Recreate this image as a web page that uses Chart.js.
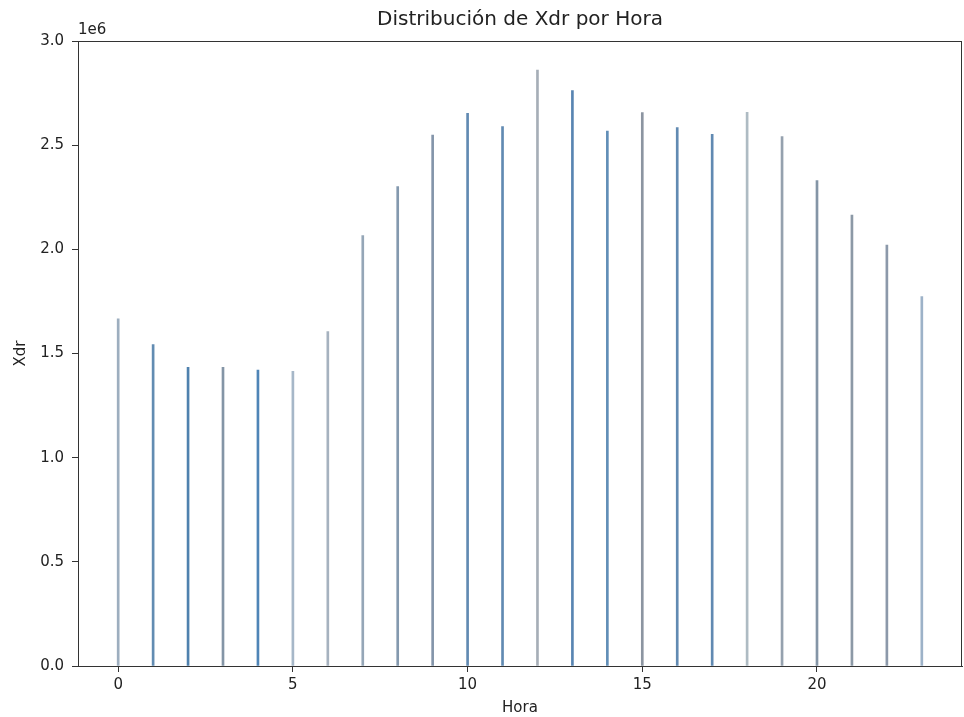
<!DOCTYPE html>
<html>
<head>
<meta charset="utf-8">
<script src="https://cdn.jsdelivr.net/npm/chart.js@4/dist/chart.umd.min.js"></script>
<style>
  html, body { margin: 0; padding: 0; background: #fff; }
  #wrap { width: 964px; height: 717px; position: relative; }
</style>
</head>
<body>
<div id="wrap"><canvas id="c" width="964" height="717"></canvas></div>
<script>
// ---- data ----
const hours = [0,1,2,3,4,5,6,7,8,9,10,11,12,13,14,15,16,17,18,19,20,21,22,23];
const xdrValues = [1667000,1543000,1434000,1434000,1421000,1415000,1605000,2066000,2301000,2549000,2653000,2589000,
                   2861000,2762000,2568000,2656000,2584000,2552000,2658000,2541000,2330000,2165000,2021000,1773000];
const xTickValues = [0,5,10,15,20];
const yTickValues = [0,500000,1000000,1500000,2000000,2500000,3000000];
const titleText = 'Distribución de Xdr por Hora';
const xLabel = 'Hora';
const yLabel = 'Xdr';
const offsetText = '1e6';

// ---- styles ----
const barColors = [
  'rgba(140,160,180,0.85)','rgba(70,120,165,0.85)','rgba(60,115,165,0.9)','rgba(110,130,150,0.85)',
  'rgba(60,120,175,0.9)','rgba(150,170,190,0.85)','rgba(150,165,180,0.85)','rgba(130,150,170,0.85)',
  'rgba(110,135,160,0.85)','rgba(110,130,155,0.85)','rgba(80,125,170,0.9)','rgba(80,125,170,0.9)',
  'rgba(150,160,170,0.85)','rgba(70,120,170,0.9)','rgba(80,130,175,0.9)','rgba(120,130,145,0.85)',
  'rgba(80,125,170,0.9)','rgba(80,125,170,0.9)','rgba(160,175,185,0.85)','rgba(130,145,160,0.85)',
  'rgba(110,130,150,0.85)','rgba(120,135,150,0.85)','rgba(120,135,155,0.85)','rgba(140,165,190,0.85)'
];
const FONT = 'DejaVu Sans';
const INK = '#222';

const points = hours.map((h, i) => ({ x: h, y: xdrValues[i] }));

const framePlugin = {
  id: 'frame',
  afterDraw(chart) {
    const { ctx, chartArea: a } = chart;
    ctx.save();
    ctx.strokeStyle = '#333';
    ctx.lineWidth = 1;
    ctx.strokeRect(Math.round(a.left) + 0.5, Math.round(a.top) + 0.5,
                   Math.round(a.right - a.left) - 1, Math.round(a.bottom - a.top));
    ctx.fillStyle = INK;
    ctx.font = '15px "' + FONT + '"';
    ctx.textAlign = 'left';
    ctx.textBaseline = 'bottom';
    ctx.fillText(offsetText, a.left, a.top - 3);
    ctx.restore();
  }
};

new Chart(document.getElementById('c'), {
  type: 'bar',
  data: {
    datasets: [{
      data: points,
      backgroundColor: barColors,
      borderWidth: 0,
      barThickness: 2
    }]
  },
  options: {
    responsive: false,
    animation: false,
    layout: { padding: { left: 0, right: 2, top: 0, bottom: 0 } },
    plugins: {
      legend: { display: false },
      tooltip: { enabled: false },
      title: {
        display: true,
        fullSize: false,
        text: titleText,
        color: INK,
        font: { family: FONT, size: 20, weight: 'normal' },
        padding: { top: 8, bottom: 9 }
      }
    },
    scales: {
      x: {
        type: 'linear',
        offset: false,
        min: -1.15,
        max: 24.15,
        afterFit(scale) { scale.height = 51; },
        afterBuildTicks(scale) { scale.ticks = xTickValues.map(v => ({ value: v })); },
        grid: { offset: false, drawOnChartArea: false, drawTicks: true, tickLength: 6, color: '#333' },
        border: { display: true, color: '#333', width: 1 },
        ticks: { color: INK, font: { family: FONT, size: 15 }, padding: 4, maxRotation: 0 },
        title: { display: true, text: xLabel, color: INK, font: { family: FONT, size: 15 }, padding: { top: 0, bottom: 0 } }
      },
      y: {
        min: 0,
        max: 3000000,
        afterFit(scale) { scale.width = 78; },
        afterBuildTicks(scale) { scale.ticks = yTickValues.map(v => ({ value: v })); },
        grid: { drawOnChartArea: false, drawTicks: true, tickLength: 6, color: '#333' },
        border: { display: true, color: '#333', width: 1 },
        ticks: { color: INK, font: { family: FONT, size: 15 }, padding: 8,
                 callback: v => (v / 1e6).toFixed(1) },
        title: { display: true, text: yLabel, color: INK, font: { family: FONT, size: 15 }, padding: { top: 12, bottom: 0 } }
      }
    }
  },
  plugins: [framePlugin]
});
</script>
</body>
</html>
